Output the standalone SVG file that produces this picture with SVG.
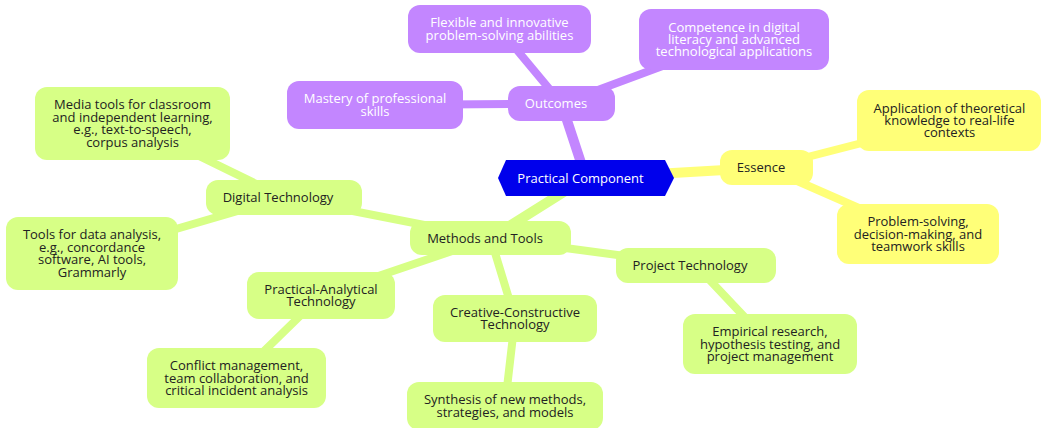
<svg xmlns="http://www.w3.org/2000/svg" width="1042" height="428" viewBox="0 0 1042 428">
  <defs>
    <style>
      .lbl { font-family: "Open Sans", "Noto Sans", "DejaVu Sans", sans-serif; font-size: 13px; text-anchor: middle; }
      .dark { fill: #222222; }
      .light { fill: #ffffff; }
      .root-shape { fill: #0000ec; }
      .sec-purple { fill: #c386ff; }
      .sec-yellow { fill: #ffff78; }
      .sec-green { fill: #d7ff86; }
      .edge { fill: none; stroke-linecap: round; }
      .e-purple { stroke: #c386ff; }
      .e-yellow { stroke: #ffff78; }
      .e-green { stroke: #d7ff86; }
      .d1 { stroke-width: 10; }
      .d2 { stroke-width: 8; }
    </style>
  </defs>
  <rect width="1042" height="428" fill="#ffffff"/>

  <!-- connectors: centre-to-centre lines drawn beneath the nodes -->
  <g id="connectors">
    <line class="edge e-purple d1" x1="586" y1="178" x2="561.5" y2="103.5"/>
    <line class="edge e-purple d2" x1="561.5" y1="103.5" x2="499.5" y2="29"/>
    <line class="edge e-purple d2" x1="561.5" y1="103.5" x2="734" y2="39.5"/>
    <line class="edge e-purple d2" x1="561.5" y1="103.5" x2="375" y2="105"/>

    <line class="edge e-yellow d1" x1="586" y1="178" x2="766.5" y2="167.5"/>
    <line class="edge e-yellow d2" x1="766.5" y1="167.5" x2="949.5" y2="120.5"/>
    <line class="edge e-yellow d2" x1="766.5" y1="167.5" x2="918" y2="234"/>

    <line class="edge e-green d1" x1="586" y1="178" x2="490.5" y2="238"/>
    <line class="edge e-green d2" x1="490.5" y1="238" x2="284" y2="197.5"/>
    <line class="edge e-green d2" x1="284" y1="197.5" x2="132.5" y2="123.5"/>
    <line class="edge e-green d2" x1="284" y1="197.5" x2="92" y2="253.5"/>
    <line class="edge e-green d2" x1="490.5" y1="238" x2="321" y2="295.5"/>
    <line class="edge e-green d2" x1="321" y1="295.5" x2="236.5" y2="378"/>
    <line class="edge e-green d2" x1="490.5" y1="238" x2="515" y2="318.5"/>
    <line class="edge e-green d2" x1="515" y1="318.5" x2="505" y2="405"/>
    <line class="edge e-green d2" x1="490.5" y1="238" x2="696" y2="265.5"/>
    <line class="edge e-green d2" x1="696" y1="265.5" x2="770" y2="344"/>
  </g>

  <!-- root -->
  <g id="root">
    <polygon class="root-shape" points="498,178 506,160 665,160 674,178 665,196 506,196"/>
    <text class="lbl light" x="580.5" y="182.5">Practical Component</text>
  </g>

  <!-- Outcomes branch -->
  <g id="outcomes">
    <rect class="sec-purple" x="508" y="86" width="107" height="35" rx="12"/>
    <text class="lbl light" x="556" y="108">Outcomes</text>
  </g>
  <g id="flexible">
    <rect class="sec-purple" x="408" y="5" width="183" height="48" rx="12"/>
    <text class="lbl light" x="499.5" y="27.3">Flexible and innovative<tspan x="499.5" dy="12.4">problem-solving abilities</tspan></text>
  </g>
  <g id="competence">
    <rect class="sec-purple" x="639" y="9" width="190" height="61" rx="12"/>
    <text class="lbl light" x="734" y="31.6">Competence in digital<tspan x="734" dy="12.4">literacy and advanced</tspan><tspan x="734" dy="12.4">technological applications</tspan></text>
  </g>
  <g id="mastery">
    <rect class="sec-purple" x="287" y="81" width="176" height="48" rx="12"/>
    <text class="lbl light" x="375" y="103.3">Mastery of professional<tspan x="375" dy="12.4">skills</tspan></text>
  </g>

  <!-- Essence branch -->
  <g id="essence">
    <rect class="sec-yellow" x="720" y="150" width="93" height="35" rx="12"/>
    <text class="lbl dark" x="761" y="172">Essence</text>
  </g>
  <g id="application">
    <rect class="sec-yellow" x="857" y="90" width="184" height="61" rx="12"/>
    <text class="lbl dark" x="949.5" y="112.6">Application of theoretical<tspan x="949.5" dy="12.4">knowledge to real-life</tspan><tspan x="949.5" dy="12.4">contexts</tspan></text>
  </g>
  <g id="problem-solving">
    <rect class="sec-yellow" x="837" y="204" width="162" height="60" rx="12"/>
    <text class="lbl dark" x="918" y="226.1">Problem-solving,<tspan x="918" dy="12.4">decision-making, and</tspan><tspan x="918" dy="12.4">teamwork skills</tspan></text>
  </g>

  <!-- Methods and Tools branch -->
  <g id="methods">
    <rect class="sec-green" x="410" y="221" width="161" height="34" rx="12"/>
    <text class="lbl dark" x="485" y="242.5">Methods and Tools</text>
  </g>
  <g id="digital">
    <rect class="sec-green" x="206" y="180" width="156" height="35" rx="12"/>
    <text class="lbl dark" x="278" y="202">Digital Technology</text>
  </g>
  <g id="media-tools">
    <rect class="sec-green" x="35" y="87" width="195" height="73" rx="12"/>
    <text class="lbl dark" x="132.5" y="109.4">Media tools for classroom<tspan x="132.5" dy="12.4">and independent learning,</tspan><tspan x="132.5" dy="12.4">e.g., text-to-speech,</tspan><tspan x="132.5" dy="12.4">corpus analysis</tspan></text>
  </g>
  <g id="data-tools">
    <rect class="sec-green" x="6" y="217" width="172" height="73" rx="12"/>
    <text class="lbl dark" x="92" y="239.4">Tools for data analysis,<tspan x="92" dy="12.4">e.g., concordance</tspan><tspan x="92" dy="12.4">software, AI tools,</tspan><tspan x="92" dy="12.4">Grammarly</tspan></text>
  </g>
  <g id="practical-analytical">
    <rect class="sec-green" x="247" y="272" width="148" height="47" rx="12"/>
    <text class="lbl dark" x="321" y="293.8">Practical-Analytical<tspan x="321" dy="12.4">Technology</tspan></text>
  </g>
  <g id="conflict">
    <rect class="sec-green" x="147" y="348" width="179" height="60" rx="12"/>
    <text class="lbl dark" x="236.5" y="370.1">Conflict management,<tspan x="236.5" dy="12.4">team collaboration, and</tspan><tspan x="236.5" dy="12.4">critical incident analysis</tspan></text>
  </g>
  <g id="creative-constructive">
    <rect class="sec-green" x="433" y="295" width="164" height="47" rx="12"/>
    <text class="lbl dark" x="515" y="316.8">Creative-Constructive<tspan x="515" dy="12.4">Technology</tspan></text>
  </g>
  <g id="synthesis">
    <rect class="sec-green" x="407" y="382" width="196" height="48" rx="12"/>
    <text class="lbl dark" x="505" y="404.3">Synthesis of new methods,<tspan x="505" dy="12.4">strategies, and models</tspan></text>
  </g>
  <g id="project">
    <rect class="sec-green" x="616" y="248" width="160" height="35" rx="12"/>
    <text class="lbl dark" x="690" y="270">Project Technology</text>
  </g>
  <g id="empirical">
    <rect class="sec-green" x="683" y="314" width="174" height="60" rx="12"/>
    <text class="lbl dark" x="770" y="336.1">Empirical research,<tspan x="770" dy="12.4">hypothesis testing, and</tspan><tspan x="770" dy="12.4">project management</tspan></text>
  </g>
</svg>
